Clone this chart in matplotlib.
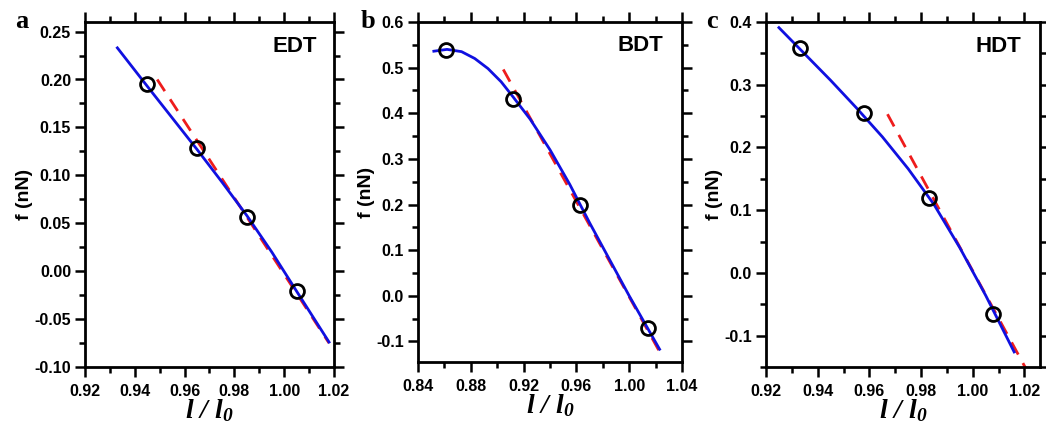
import matplotlib
matplotlib.use("Agg")
import matplotlib.pyplot as plt
from matplotlib.ticker import MultipleLocator, FormatStrFormatter

plt.rcParams['font.family'] = ['Liberation Sans', 'DejaVu Sans']
plt.rcParams['mathtext.fontset'] = 'custom'
plt.rcParams['mathtext.it'] = 'Liberation Serif:italic:bold'
plt.rcParams['mathtext.rm'] = 'Liberation Serif:italic:bold'

# panel a - EDT
edt_pts_x = [0.945, 0.965, 0.985, 1.005]
edt_pts_y = [0.195, 0.128, 0.057, -0.021]
edt_fit_x = [0.933, 0.945, 0.955, 0.965, 0.975, 0.985, 0.995, 1.005, 1.018]
edt_fit_y = [0.233, 0.193, 0.160, 0.127, 0.093, 0.058, 0.020, -0.021, -0.074]
edt_lin_x = [0.949, 1.018]
edt_lin_y = [0.200, -0.075]

# panel b - BDT
bdt_pts_x = [0.861, 0.912, 0.963, 1.014]
bdt_pts_y = [0.538, 0.432, 0.199, -0.071]
bdt_fit_x = [0.852, 0.862, 0.873, 0.883, 0.893, 0.903, 0.912, 0.925, 0.940, 0.955, 0.970,
             0.985, 1.000, 1.023]
bdt_fit_y = [0.536, 0.540, 0.535, 0.520, 0.498, 0.469, 0.436, 0.387, 0.320, 0.244, 0.160,
             0.080, 0.000, -0.117]
bdt_lin_x = [0.9046, 1.0256]
bdt_lin_y = [0.496, -0.136]

# panel c - HDT
hdt_pts_x = [0.933, 0.958, 0.983, 1.008]
hdt_pts_y = [0.359, 0.255, 0.119, -0.065]
hdt_fit_x = [0.925, 0.935, 0.945, 0.955, 0.965, 0.975, 0.985, 0.995, 1.005, 1.016]
hdt_fit_y = [0.391, 0.349, 0.307, 0.263, 0.217, 0.166, 0.109, 0.040, -0.036, -0.126]
hdt_lin_x = [0.967, 1.021]
hdt_lin_y = [0.253, -0.156]

W, H = 1046, 425
fig = plt.figure(figsize=(W / 100, H / 100), dpi=100)

panels = [
    # letter, letter x px, name, box(l, r, t, b px), xlim, ylim, xmaj, ymaj, yfmt, data
    ('a', 15, 'EDT', (85, 334, 22, 367), (0.92, 1.02), (-0.10, 0.26), 0.02, 0.05, '%.2f',
     (edt_pts_x, edt_pts_y, edt_fit_x, edt_fit_y, edt_lin_x, edt_lin_y)),
    ('b', 361, 'BDT', (418, 682, 22, 362), (0.84, 1.04), (-0.145, 0.60), 0.04, 0.1, '%.1f',
     (bdt_pts_x, bdt_pts_y, bdt_fit_x, bdt_fit_y, bdt_lin_x, bdt_lin_y)),
    ('c', 706, 'HDT', (766, 1040, 22, 367), (0.92, 1.026), (-0.15, 0.40), 0.02, 0.1, '%.1f',
     (hdt_pts_x, hdt_pts_y, hdt_fit_x, hdt_fit_y, hdt_lin_x, hdt_lin_y)),
]

for letter, lx_px, name, box, xlim, ylim, xmaj, ymaj, yfmt, data in panels:
    l, r, t, b = box
    ax = fig.add_axes([l / W, (H - b) / H, (r - l) / W, (b - t) / H])
    px, py, fx, fy, lx, ly = data
    ax.plot(lx, ly, color='#ee1c1c', lw=2, dashes=(5, 3.5), zorder=2)
    ax.plot(fx, fy, color='#1010e0', lw=2, zorder=3)
    ax.plot(px, py, 'o', ms=10, mfc='none', mec='black', mew=2, zorder=4)
    ax.set_xlim(*xlim)
    ax.set_ylim(*ylim)
    ax.xaxis.set_major_locator(MultipleLocator(xmaj))
    ax.xaxis.set_minor_locator(MultipleLocator(xmaj / 2))
    ax.yaxis.set_major_locator(MultipleLocator(ymaj))
    ax.yaxis.set_minor_locator(MultipleLocator(ymaj / 2))
    ax.xaxis.set_major_formatter(FormatStrFormatter('%.2f'))
    ax.yaxis.set_major_formatter(FormatStrFormatter(yfmt))
    ax.tick_params(which='both', direction='out', top=True, right=True, width=1.8)
    ax.tick_params(which='major', length=7, labelsize=11.5, pad=3)
    ax.tick_params(which='minor', length=4)
    ax.tick_params(axis='x', which='major', pad=5)
    for lab in ax.get_xticklabels() + ax.get_yticklabels():
        lab.set_fontweight('bold')
    for s in ax.spines.values():
        s.set_linewidth(2)
    ax.set_ylabel('f (nN)', fontsize=14, fontweight='bold', labelpad=1)
    ax.set_xlabel(r'$l\ /\ l_0$', fontsize=20, labelpad=-1)
    ax.text(0.93, 0.93, name, transform=ax.transAxes, ha='right', va='center',
            fontsize=16, fontweight='bold')
    fig.text(lx_px / W, (H - 21) / H, letter, family='Liberation Serif',
             fontweight='bold', fontsize=19, ha='left', va='center')

fig.savefig('out.png', dpi=100)
